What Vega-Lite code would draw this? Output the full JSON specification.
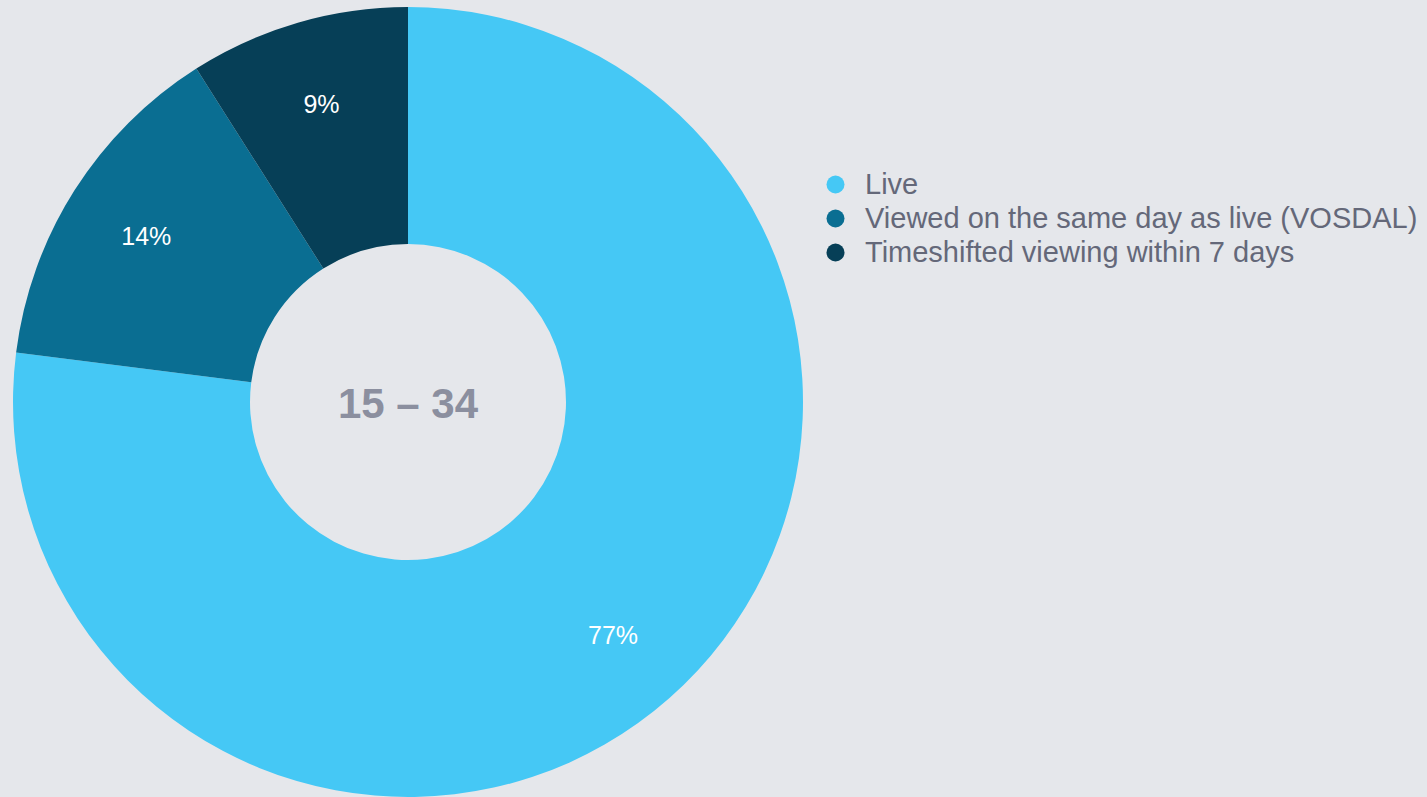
{
  "$schema": "https://vega.github.io/schema/vega-lite/v6.json",
  "width": 816,
  "height": 804,
  "padding": {"left": 0, "top": 0, "right": 12, "bottom": 0},
  "background": "#e5e7eb",
  "config": {"view": {"stroke": null}, "font": "Liberation Sans"},
  "layer": [
    {
      "data": {"values": [
        {"category": "Live", "value": 77, "label": "77%", "order": 1},
        {"category": "Viewed on the same day as live (VOSDAL)", "value": 14, "label": "14%", "order": 2},
        {"category": "Timeshifted viewing within 7 days", "value": 9, "label": "9%", "order": 3}
      ]},
      "encoding": {
        "theta": {"field": "value", "type": "quantitative", "stack": true},
        "order": {"field": "order", "type": "quantitative"}
      },
      "layer": [
        {
          "mark": {"type": "arc", "outerRadius": 395, "innerRadius": 158},
          "encoding": {
            "color": {
              "field": "category",
              "type": "nominal",
              "scale": {
                "domain": ["Live", "Viewed on the same day as live (VOSDAL)", "Timeshifted viewing within 7 days"],
                "range": ["#45c8f5", "#0a6e92", "#063f57"]
              },
              "legend": {
                "title": null,
                "orient": "none",
                "legendX": 821,
                "legendY": 170,
                "padding": 0,
                "symbolType": "circle",
                "symbolSize": 324,
                "symbolStrokeWidth": 0,
                "labelFontSize": 29,
                "labelFont": "Liberation Sans",
                "labelColor": "#646879",
                "labelOffset": 15,
                "rowPadding": 4,
                "labelLimit": 800
              }
            }
          }
        },
        {
          "mark": {"type": "text", "radius": 310, "fontSize": 25, "color": "#ffffff", "font": "Liberation Sans", "dy": 1},
          "encoding": {
            "text": {"field": "label", "type": "nominal"}
          }
        }
      ]
    },
    {
      "data": {"values": [{"t": "15 – 34"}]},
      "mark": {"type": "text", "fontSize": 42, "fontWeight": "bold", "color": "#8b8f9f", "font": "Liberation Sans", "baseline": "middle", "align": "center", "dy": 3},
      "encoding": {"text": {"field": "t", "type": "nominal"}}
    }
  ]
}
